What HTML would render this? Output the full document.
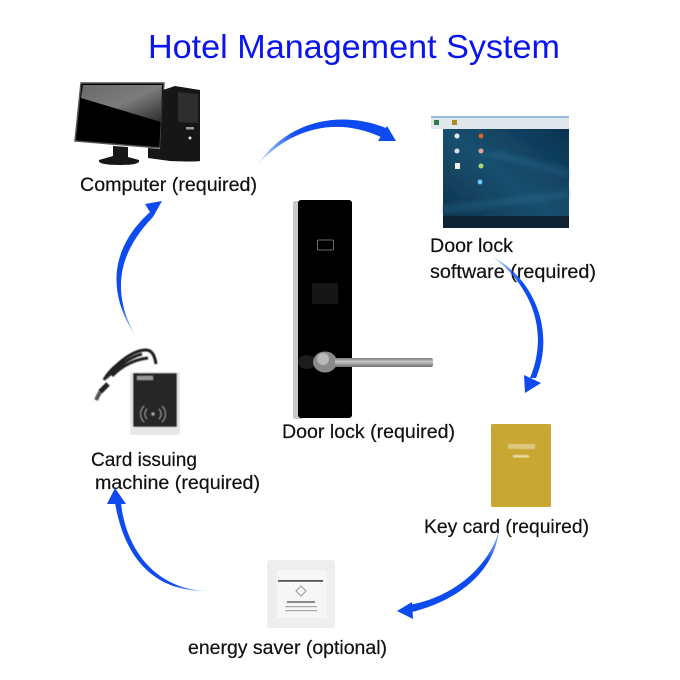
<!DOCTYPE html>
<html><head><meta charset="utf-8">
<style>html,body{margin:0;padding:0;background:#fff}svg{display:block}</style></head>
<body>
<svg width="680" height="680" viewBox="0 0 680 680" xmlns="http://www.w3.org/2000/svg">
<defs>
<filter id="b" x="-5%" y="-5%" width="110%" height="110%"><feGaussianBlur stdDeviation="0.6"/></filter>
<filter id="b2" x="-5%" y="-5%" width="110%" height="110%"><feGaussianBlur stdDeviation="0.35"/></filter>
<filter id="b3" x="-10%" y="-10%" width="120%" height="120%"><feGaussianBlur stdDeviation="2"/></filter>
<linearGradient id="scr" x1="0" y1="0" x2="1" y2="1"><stop offset="0" stop-color="#6a6a6a"/><stop offset=".5" stop-color="#7c7c7c"/><stop offset="1" stop-color="#2c2c2c"/></linearGradient>
<linearGradient id="desk" x1="1" y1="0" x2="0" y2="1"><stop offset="0" stop-color="#0c3250"/><stop offset=".5" stop-color="#17506f"/><stop offset="1" stop-color="#0d3048"/></linearGradient>
<linearGradient id="g1" gradientUnits="userSpaceOnUse" x1="259" y1="163" x2="293" y2="130"><stop offset="0" stop-color="#0a4cf0" stop-opacity=".15"/><stop offset="1" stop-color="#0a4cf0"/></linearGradient>
<linearGradient id="g2" gradientUnits="userSpaceOnUse" x1="493" y1="257" x2="520" y2="285"><stop offset="0" stop-color="#0a4cf0" stop-opacity=".2"/><stop offset="1" stop-color="#0a4cf0"/></linearGradient>
<linearGradient id="g3" gradientUnits="userSpaceOnUse" x1="499" y1="530" x2="490" y2="562"><stop offset="0" stop-color="#0a4cf0" stop-opacity=".3"/><stop offset="1" stop-color="#0a4cf0"/></linearGradient>
<linearGradient id="g4" gradientUnits="userSpaceOnUse" x1="208" y1="591" x2="175" y2="584"><stop offset="0" stop-color="#0a4cf0" stop-opacity=".15"/><stop offset="1" stop-color="#0a4cf0"/></linearGradient>
<linearGradient id="g5" gradientUnits="userSpaceOnUse" x1="136" y1="337" x2="122" y2="305"><stop offset="0" stop-color="#0a4cf0" stop-opacity=".15"/><stop offset="1" stop-color="#0a4cf0"/></linearGradient>
<linearGradient id="metal" x1="0" y1="0" x2="0" y2="1"><stop offset="0" stop-color="#7a7a7a"/><stop offset=".4" stop-color="#c8c8c8"/><stop offset="1" stop-color="#707070"/></linearGradient>
</defs>
<rect width="680" height="680" fill="#fff"/>

<text x="148" y="58" font-family="'Liberation Sans',sans-serif" font-size="33.5" fill="#0a14f0" textLength="412" lengthAdjust="spacingAndGlyphs">Hotel Management System</text>

<!-- computer -->
<g filter="url(#b2)">
<path d="M81 83 L164 83 L160 148 L75 141Z" fill="#050505" stroke="#555" stroke-width="1.500"/>
<path d="M83 85 L162 85 L161 122 L81 98Z" fill="url(#scr)"/>
<path d="M113 146 L128 147 L128 157 L139 160 Q141 165 120 165 Q97 165 99 160 L113 156Z" fill="#141414"/>
<path d="M163 90 L175 86 L200 90 L200 161 Q195 162 170 161 L148 158 L148 148 L160 149Z" fill="#191919"/>
<path d="M178 92 L198 94 L198 123 L178 122Z" fill="#2e2e2e"/>
<rect x="186" y="127" width="8" height="2.500" fill="#999"/><circle cx="190" cy="138" r="1.500" fill="#ddd"/>
</g>

<!-- software -->
<g filter="url(#b2)">
<rect x="431" y="116" width="138" height="13" fill="#dfe6ec"/>
<rect x="431" y="116" width="138" height="2" fill="#9cbbd8"/>
<rect x="434" y="120" width="5" height="5" fill="#2d7a4a"/><rect x="452" y="120" width="5" height="5" fill="#b08a20"/>
<rect x="443" y="129" width="126" height="99" fill="url(#desk)"/>
<path d="M500 150 L569 170 V178 L480 155Z M443 205 L569 190 V198 L443 214Z" fill="#2a6a90" opacity=".35" filter="url(#b3)"/>
<rect x="443" y="216" width="126" height="12" fill="#0c2030"/>
<circle cx="457" cy="136" r="2.500" fill="#eee"/><circle cx="481" cy="136" r="2.500" fill="#c76a2a"/>
<circle cx="457" cy="151" r="2.500" fill="#dde"/><circle cx="481" cy="151" r="2.500" fill="#e6a0a0"/>
<rect x="455" y="163" width="5" height="6" fill="#eee"/><circle cx="481" cy="166" r="2.500" fill="#a8d878"/>
<circle cx="480" cy="182" r="2.500" fill="#6cc4f4"/>
</g>

<!-- door lock -->
<g filter="url(#b2)">
<rect x="293" y="201" width="10" height="218" rx="2" fill="#c9c9c9"/>
<rect x="298" y="200" width="54" height="218" rx="3" fill="#050505"/>
<rect x="317.500" y="240" width="16" height="10" rx="1" fill="none" stroke="#888" stroke-width=".8"/>
<rect x="312" y="283" width="26" height="21" rx="1" fill="#121212"/>
<ellipse cx="307" cy="362" rx="9" ry="7" fill="#1c1c1c"/>
<ellipse cx="325" cy="362" rx="12" ry="10.500" fill="#8a8a8a"/>
<ellipse cx="323" cy="359" rx="6" ry="6" fill="#b8b8b8"/>
<rect x="335" y="358" width="98" height="9" rx="2" fill="url(#metal)"/>
</g>

<!-- reader -->
<g filter="url(#b)">
<path d="M156 364 Q154 350 146 350 Q134 350 118 364 Q108 372 104 380" fill="none" stroke="#1a1a1a" stroke-width="3"/>
<path d="M148 358 Q128 360 112 376 M142 354 Q126 358 106 378" fill="none" stroke="#222" stroke-width="3"/>
<path d="M108 384 L100 392" stroke="#222" stroke-width="5"/>
<path d="M100 392 L96 400" stroke="#555" stroke-width="4"/>
<rect x="130" y="372" width="50" height="63" rx="2" fill="#e8e8e8"/>
<rect x="133" y="373" width="44" height="54" rx="1" fill="#262626"/>
<rect x="137" y="376" width="16" height="4" fill="#999"/>
<circle cx="153" cy="414" r="1.500" fill="#aaa"/>
<path d="M147 409a7 7 0 0 0 0 10M144 406a11 11 0 0 0 0 16M159 409a7 7 0 0 1 0 10M162 406a11 11 0 0 1 0 16" fill="none" stroke="#999" stroke-width=".9"/>
</g>

<!-- key card -->
<rect x="491" y="424" width="60" height="83" rx="1.500" fill="#c9a733"/>
<rect x="508" y="444" width="27" height="5" fill="#dcc880" filter="url(#b)"/>
<rect x="513" y="455" width="16" height="2.500" fill="#eadca8" filter="url(#b)"/>

<!-- energy saver -->
<g filter="url(#b2)">
<rect x="267" y="560" width="68" height="68" rx="3" fill="#eeeeee"/>
<rect x="277" y="570" width="50" height="48" fill="#f6f6f6"/>
<rect x="278" y="580" width="45" height="1.800" fill="#555"/>
<path d="M301 586 l5 5 -5 5 -5 -5Z" fill="none" stroke="#999"/>
<rect x="287" y="601" width="28" height="2" fill="#888"/>
<rect x="285" y="606" width="32" height="1.200" fill="#aaa"/>
<rect x="285" y="610" width="32" height="1.200" fill="#aaa"/>
</g>

<!-- labels -->
<g font-family="'Liberation Sans',sans-serif" font-size="19" fill="#111" stroke="#111" stroke-width=".2">
<text x="80" y="191" textLength="177" lengthAdjust="spacingAndGlyphs">Computer (required)</text>
<text x="430" y="252" textLength="83" lengthAdjust="spacingAndGlyphs">Door lock</text>
<text x="430" y="278" textLength="166" lengthAdjust="spacingAndGlyphs">software (required)</text>
<text x="282" y="438" textLength="173" lengthAdjust="spacingAndGlyphs">Door lock (required)</text>
<text x="91" y="466" textLength="106" lengthAdjust="spacingAndGlyphs">Card issuing</text>
<text x="95" y="489" textLength="165" lengthAdjust="spacingAndGlyphs">machine (required)</text>
<text x="424" y="533" textLength="165" lengthAdjust="spacingAndGlyphs">Key card (required)</text>
<text x="188" y="654" textLength="199" lengthAdjust="spacingAndGlyphs">energy saver (optional)</text>
</g>

<!-- arrows (drawn over the labels, as in the reference) -->
<g filter="url(#b2)">
<path d="M259 163 C285 125 335 108 386 128 L381 137 C340 118 295 125 259 163Z" fill="url(#g1)"/>
<path d="M387 126 L396 141 L378 141Z" fill="#0a4cf0"/>
<path d="M493 257 C533 278 556 330 536 378 L530 378 C550 330 530 285 493 257Z" fill="url(#g2)"/>
<path d="M524 375 L541 383 L525 393Z" fill="#0a4cf0"/>
<path d="M499 530 C495 570 460 600 412 612 L409 605 C455 597 490 565 499 530Z" fill="url(#g3)"/>
<path d="M397 611 L412 602 L413 619Z" fill="#0a4cf0"/>
<path d="M208 591 C155 592 125 560 115 503 L121 503 C126 550 156 590 208 591Z" fill="url(#g4)"/>
<path d="M115 488 L126 504 L107 504Z" fill="#0a4cf0"/>
<path d="M136 337 C108 295 108 250 150 212 L153 217 C116 255 112 295 136 337Z" fill="url(#g5)"/>
<path d="M162 201 L145 204 L153 217Z" fill="#0a4cf0"/>
</g>
</svg>
</body></html>
